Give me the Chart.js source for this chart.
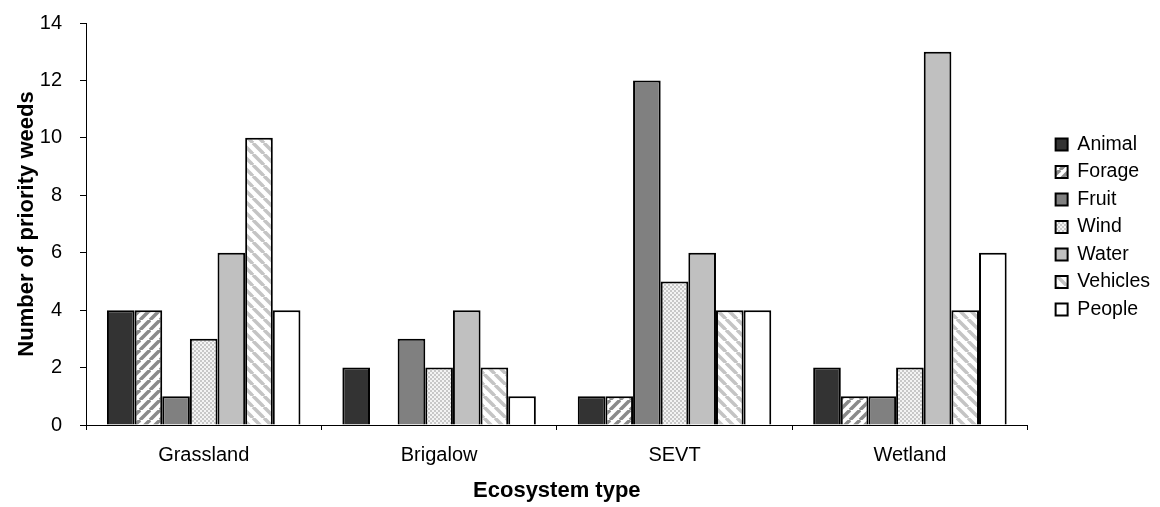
<!DOCTYPE html>
<html lang="en">
<head>
    <meta charset="UTF-8">
    <title>Priority weeds by ecosystem</title>
    <script src="https://cdn.jsdelivr.net/npm/chart.js@4.4.0/dist/chart.umd.min.js"></script>
    <style>
        html, body { margin: 0; padding: 0; background: #fff; }
        #chartWeeds { display: block; }
    </style>
</head>
<body>
    <canvas id="chartWeeds" width="1160" height="507"></canvas>
<script>
    // Dados do gráfico
    var ecosystems = ['Grassland', 'Brigalow', 'SEVT', 'Wetland'];
    var vectors = ['Animal', 'Forage', 'Fruit', 'Wind', 'Water', 'Vehicles', 'People'];

    var animal   = [4, 2, 1, 2];
    var forage   = [4, 0, 1, 1];
    var fruit    = [1, 3, 12, 1];
    var wind     = [3, 2, 5, 2];
    var water    = [6, 4, 6, 13];
    var vehicles = [10, 2, 4, 4];
    var people   = [4, 1, 4, 6];

    var yTicks = [0, 2, 4, 6, 8, 10, 12, 14];

    // Padrões de preenchimento (hachuras)
    function stripes(size, color, dir, width) {
        var c = document.createElement('canvas');
        c.width = size; c.height = size;
        var g = c.getContext('2d');
        g.fillStyle = '#fff';
        g.fillRect(0, 0, size, size);
        g.strokeStyle = color;
        g.lineWidth = width;
        for (var k = -1; k <= 1; k++) {
            g.beginPath();
            if (dir === '/') {
                g.moveTo(k * size, size);
                g.lineTo(k * size + size, 0);
            } else {
                g.moveTo(k * size, 0);
                g.lineTo(k * size + size, size);
            }
            g.stroke();
        }
        return g.createPattern(c, 'repeat');
    }

    function checker(cell, c1, c2) {
        var c = document.createElement('canvas');
        c.width = cell * 2; c.height = cell * 2;
        var g = c.getContext('2d');
        g.fillStyle = c2;
        g.fillRect(0, 0, cell * 2, cell * 2);
        g.fillStyle = c1;
        g.fillRect(0, 0, cell, cell);
        g.fillRect(cell, cell, cell, cell);
        return g.createPattern(c, 'repeat');
    }

    var fills = [
        '#333333',
        stripes(10, '#8a8a8a', '/', 3.5),
        '#808080',
        checker(2, '#c8c8c8', '#f4f4f4'),
        '#c0c0c0',
        stripes(11, '#c4c4c4', '\\', 3.5),
        '#ffffff'
    ];

    var series = [animal, forage, fruit, wind, water, vehicles, people];

    var datasets = series.map(function (values, i) {
        return {
            label: vectors[i],
            data: values,
            backgroundColor: fills[i],
            borderColor: '#000',
            borderWidth: 2,
            categoryPercentage: 0.822,
            barPercentage: 1
        };
    });

    var ctx = document.getElementById('chartWeeds').getContext('2d');

    var chartWeeds = new Chart(ctx, {
        type: 'bar',
        data: {
            labels: ecosystems,
            datasets: datasets
        },
        options: {
            responsive: false,
            animation: false,
            events: [],
            layout: {
                padding: { top: 23, right: 0, bottom: 0, left: 0 }
            },
            plugins: {
                tooltip: { enabled: false },
                legend: {
                    position: 'right',
                    fullSize: false,
                    maxWidth: 113,
                    title: {
                        display: true,
                        text: ' ',
                        padding: 0,
                        font: { size: 5 }
                    },
                    labels: {
                        color: '#000',
                        boxWidth: 12,
                        boxHeight: 12,
                        padding: 8,
                        font: { family: 'Liberation Sans, Arial, sans-serif', size: 19.5 }
                    }
                }
            },
            scales: {
                x: {
                    afterFit: function (scale) { scale.height = 82; },
                    grid: {
                        offset: true,
                        drawOnChartArea: false,
                        color: '#000',
                        tickLength: 5
                    },
                    border: { color: '#000', width: 1 },
                    ticks: {
                        color: '#000',
                        padding: 13,
                        font: { family: 'Liberation Sans, Arial, sans-serif', size: 20 }
                    },
                    title: {
                        display: true,
                        text: 'Ecosystem type',
                        color: '#000',
                        padding: { top: 3, bottom: 3 },
                        font: { family: 'Liberation Sans, Arial, sans-serif', size: 22, weight: 'bold' }
                    }
                },
                y: {
                    min: 0,
                    max: 14,
                    afterFit: function (scale) { scale.width = 86; },
                    afterBuildTicks: function (scale) {
                        scale.ticks = yTicks.map(function (v) { return { value: v }; });
                    },
                    grid: {
                        drawOnChartArea: false,
                        color: '#000',
                        tickLength: 6
                    },
                    border: { color: '#000', width: 1 },
                    ticks: {
                        color: '#000',
                        padding: 18,
                        font: { family: 'Liberation Sans, Arial, sans-serif', size: 20, lineHeight: 0.25 }
                    },
                    title: {
                        display: true,
                        text: 'Number of priority weeds',
                        color: '#000',
                        padding: { top: 14, bottom: 0 },
                        font: { family: 'Liberation Sans, Arial, sans-serif', size: 22, weight: 'bold' }
                    }
                },
                // eixo vazio só para afastar a legenda do gráfico
                gap: {
                    position: 'right',
                    afterFit: function (scale) { scale.width = 20; },
                    grid: { display: false },
                    border: { display: false },
                    ticks: { display: false }
                }
            }
        }
    });
</script>
</body>
</html>
